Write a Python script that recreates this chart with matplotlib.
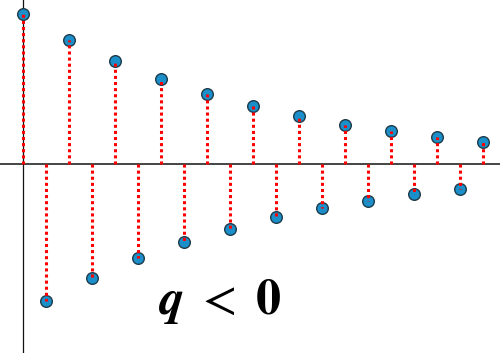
import matplotlib
matplotlib.use("Agg")
import matplotlib.pyplot as plt
import numpy as np

n = list(range(21))
values = [150, -137, 124, -114, 103, -94, 85, -78, 70, -65, 58, -53, 48, -44, 39, -37, 33, -30, 27, -25, 22]
label = r'$\boldsymbol{q}\ <\ \mathbf{0}$'

plt.rcParams['mathtext.fontset'] = 'stix'
fig = plt.figure(figsize=(5, 3.53), dpi=100)
ax = fig.add_axes([0, 0, 1, 1])
ax.set_xlim(-1, 500/23 - 1)
ax.set_ylim(-189, 164)
ax.axis('off')

ax.axhline(0, color='#444444', lw=1.4, zorder=1)
ax.axvline(0, color='#111111', lw=0.9, zorder=1)

ax.scatter(n, values, s=70, c='#1a8fc9', edgecolors='#1d3b4a', linewidths=1.0, zorder=2)
ax.vlines(n, 0, values, colors='#ff0000', linestyles=(0, (1, 1)), lw=2.2, zorder=3)

ax.text(8.57, -137, label, fontsize=36, ha='center', va='center', color='black')

fig.savefig('out.png', dpi=100)
